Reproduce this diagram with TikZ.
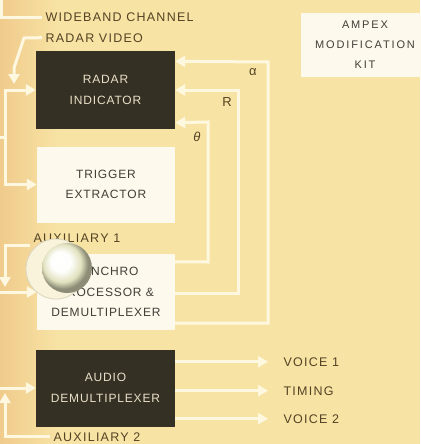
\documentclass[tikz,border=0pt]{standalone}
\usepackage{fontspec}
\usetikzlibrary{arrows.meta}
\newfontfamily\lblfont[LetterSpace=10]{Liberation Sans}
\newfontfamily\boxfont[LetterSpace=7]{Liberation Sans}
\newfontfamily\kitfont[LetterSpace=17]{Liberation Sans}
\newfontfamily\greekfont{Liberation Sans}
\definecolor{paper}{RGB}{247,228,165}
\definecolor{paperleft}{RGB}{240,203,140}
\definecolor{darkfill}{RGB}{52,48,36}
\definecolor{whitefill}{RGB}{253,249,236}
\definecolor{wirecol}{RGB}{255,248,224}
\definecolor{inkbrown}{RGB}{84,66,36}
\definecolor{inkgray}{RGB}{66,62,56}
\definecolor{inklight}{RGB}{234,224,200}
\definecolor{ballcol}{RGB}{226,226,192}
\definecolor{halocol}{RGB}{248,243,218}
\pgfdeclareradialshading{sphere}{\pgfpoint{-8bp}{8bp}}{color(0bp)=(white); color(10bp)=(white!96!ballcol); color(19bp)=(ballcol); color(25bp)=(ballcol!62!black); color(50bp)=(ballcol!62!black)}
\tikzset{
  blk/.style={fill=darkfill, text=inklight, minimum width=139pt, minimum height=77pt, inner sep=0pt, align=center, font={\boxfont\fontsize{12}{20.5}\selectfont}},
  wht/.style={fill=whitefill, text=inkgray, minimum width=138pt, minimum height=76pt, inner sep=0pt, align=center, font={\boxfont\fontsize{12}{20.5}\selectfont}},
  kit/.style={minimum width=128pt, minimum height=64pt, font={\kitfont\fontsize{11}{20}\selectfont}},
  lbl/.style={text=inkbrown, font={\lblfont\fontsize{12.5}{13}\selectfont}},
  greek/.style={text=inkbrown, font={\greekfont\fontsize{13}{14}\selectfont}},
  wire/.style={draw=wirecol, line width=3pt, -{Triangle[width=11pt,length=10pt]}},
  plain/.style={draw=wirecol, line width=3pt}
}
\begin{document}
\begin{tikzpicture}[x=1pt,y=-1pt]
			\useasboundingbox (0,0) rectangle (420,444);
			\fill[paper] (0,0) rectangle (420,444);
			\shade[left color=paperleft, right color=paper] (0,0) rectangle (60,444);
			
			% blocks
			\node[blk] (radar) at (105.5,90) {RADAR\\INDICATOR};
			\node[wht] (trigger) at (106,184.5) {TRIGGER\\EXTRACTOR};
			\node[wht] (synchro) at (106,292) {SYNCHRO\\PROCESSOR \&\\DEMULTIPLEXER};
			\node[blk] (audio) at (105.5,388) {AUDIO\\DEMULTIPLEXER};
			\node[wht, kit] (ampex) at (365,45) {AMPEX\\MODIFICATION\\KIT};
			
			% labels
			\node[lbl, anchor=base west] (wide) at (42,22) {WIDEBAND CHANNEL};
			\node[lbl, anchor=base west] (video) at (42,42) {RADAR VIDEO};
			\node[lbl, anchor=base west] (aux1) at (30,242) {AUXILIARY 1};
			\node[lbl, anchor=base] (aux2) at (97,441) {AUXILIARY 2};
			\node[lbl, anchor=base west] (voice1) at (280,366) {VOICE 1};
			\node[lbl, anchor=base west] (timing) at (280,395) {TIMING};
			\node[lbl, anchor=base west] (voice2) at (280,423) {VOICE 2};
			\node[greek] (alpha) at (253,72) {α};
			\node[greek] (range) at (227,102) {R};
			\node[greek] (theta) at (197,137) {\itshape θ};
			
			% inputs on the left
			\draw[plain] (wide.west) -| (1,-3);
			\draw[wire] (video.west) -- (24,38) -- (14,68) -- (14,84);
			\coordinate (split) at (5,137);
			\draw[plain] (-3,137) -- (split);
			\draw[wire] (split) |- (radar.west);
			\draw[wire] (split) |- (trigger.west);
			\draw[wire] (aux1.south west) -| (5,287);
			\draw[wire] (-3,292) -- (synchro.west);
			\draw[wire] (aux2.west) -| (5,393);
			\draw[wire] (-3,388) -- (audio.west);
			
			% alpha, R, theta back to the indicator
			\draw[wire] ([yshift=7pt]synchro.south east) -- (268,323) -- (268,62) -- ([yshift=-10pt]radar.north east);
			\draw[wire] ([yshift=-1pt]synchro.east) -- (238,293) -- (238,90) -- (radar.east);
			\draw[wire] ([yshift=-8pt]synchro.north east) -- (208,262) -- (208,122) -- ([yshift=6pt]radar.south east);
			
			% outputs
			\draw[wire] (audio.east |- voice1) -- ([xshift=-12pt]voice1.west);
			\draw[wire] (audio.east |- timing) -- ([xshift=-12pt]timing.west);
			\draw[wire] (audio.east |- voice2) -- ([xshift=-12pt]voice2.west);
			
			% the ball
			\fill[halocol, draw=halocol!75!gray, line width=0.8pt] (56,269) circle (30);
			\shade[shading=sphere] (67,268) circle (25);
		\end{tikzpicture}
\end{document}
